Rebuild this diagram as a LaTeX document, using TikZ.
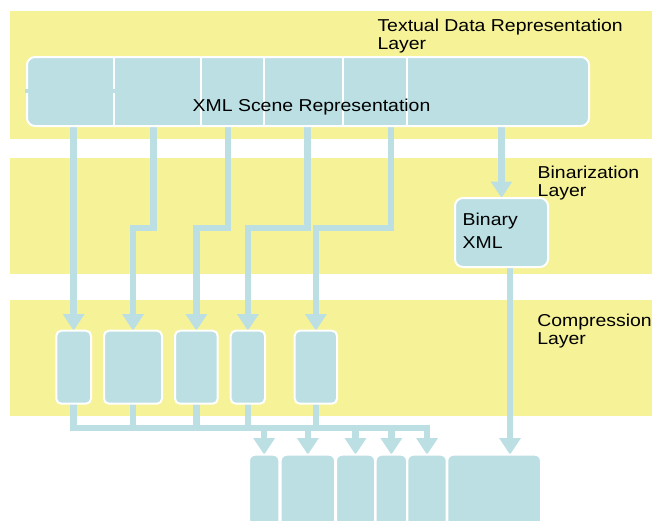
\documentclass[tikz,border=0pt]{standalone}
\usepackage{fontspec}
\setmainfont{Liberation Sans}[FakeStretch=1.13]
\usetikzlibrary{arrows.meta}
\definecolor{bandyellow}{RGB}{246,242,152}
\definecolor{boxblue}{RGB}{187,223,227}
\pgfdeclarelayer{bands}
\pgfdeclarelayer{wires}
\pgfsetlayers{bands,wires,main}
\begin{document}
\begin{tikzpicture}[x=1pt,y=-1pt,
  box/.style={draw=white, line width=2pt, fill=boxblue, inner sep=0pt, outer sep=0pt, anchor=north west},
  cbox/.style={box, rounded corners=5pt, minimum height=73pt},
  obox/.style={box, rounded corners=6pt, minimum height=80pt},
  conn/.style={draw=boxblue, line width=6.5pt},
  arr/.style={conn, -{Triangle[width=20.5pt,length=16.5pt]}},
  lbl/.style={font=\fontsize{17.2}{18}\selectfont, inner sep=0pt, outer sep=0pt, align=left, anchor=base west},
  yband/.style={fill=bandyellow}]
\useasboundingbox (0,0) rectangle (652,520);
% layer bands
\begin{pgfonlayer}{bands}
  \fill[yband] (10,11) rectangle (652,139);
  \fill[yband] (10,158) rectangle (652,274);
  \fill[yband] (10,300) rectangle (652,416);
\end{pgfonlayer}
% top box
\node[box, rounded corners=8pt, minimum width=562pt, minimum height=69pt] (xml) at (27,57) {};
\foreach \x in {113.7,201,264,343,407} \draw[white, line width=2pt] (\x,57) -- (\x,126);
\draw[boxblue, line width=4pt] (25,91) -- (114.5,91);
\node[lbl] (xmltext) at (192.7,111) {XML Scene Representation};
% base anchor of a two-line label = baseline of its last line
\node[lbl] (tlayer) at (377.5,49.5) {Textual Data Representation\\Layer};
% binarization
\node[box, rounded corners=8pt, minimum width=93pt, minimum height=69pt] (bin) at (455,198) {};
\node[lbl, font=\fontsize{17.2}{22.6}\selectfont] (bintext) at (462.7,248.3) {Binary\\XML};
\node[lbl] (blayer) at (537.7,196.5) {Binarization\\Layer};
% compression boxes
\node[cbox, minimum width=34.7pt] (c1) at (56.3,330.7) {};
\node[cbox, minimum width=58pt]   (c2) at (104,330.7) {};
\node[cbox, minimum width=42.7pt] (c3) at (175,330.7) {};
\node[cbox, minimum width=34.3pt] (c4) at (230.7,330.7) {};
\node[cbox, minimum width=42.3pt] (c5) at (294.7,330.7) {};
\node[lbl] (clayer) at (537.3,344) {Compression\\Layer};
% output boxes
\node[obox, minimum width=30.3pt] (o1) at (249,454.7) {};
\node[obox, minimum width=54.3pt] (o2) at (280.7,454.7) {};
\node[obox, minimum width=39pt]   (o3) at (336,454.7) {};
\node[obox, minimum width=31.3pt] (o4) at (375.7,454.7) {};
\node[obox, minimum width=39.4pt] (o5) at (407.3,454.7) {};
\node[obox, minimum width=93.7pt] (o6) at (447.3,454.7) {};
% helper coordinates
\coordinate (jog) at (0,228);
\coordinate (bus) at (0,428);
\coordinate (s2) at (153.4,120);
\coordinate (s3) at (228,120);
\coordinate (s4) at (307.7,120);
\coordinate (s5) at (390.8,120);
\coordinate (bx) at (510,0);
% connectors
\begin{pgfonlayer}{wires}
  \draw[arr] (c1.north |- xml.south) -- (c1.north);
  \draw[arr] (s2) -- (s2 |- jog) -| (c2.north);
  \draw[arr] (s3) -- (s3 |- jog) -| (c3.north);
  \draw[arr] (s4) -- (s4 |- jog) -| (c4.north);
  \draw[arr] (s5) -- (s5 |- jog) -| (c5.north);
  \draw[arr] (bin.north |- xml.south) -- (bin.north);
  \draw[arr] (c1.south) |- (o5.north |- bus) -- (o5.north);
  \foreach \c in {c2,c3,c4,c5} \draw[conn] (\c.south) -- (\c.south |- bus);
  \foreach \o in {o1,o2,o3,o4} \draw[arr] (\o.north |- bus) -- (\o.north);
  \draw[arr] (bin.south -| bx) -- (o6.north -| bx);
\end{pgfonlayer}
\end{tikzpicture}
\end{document}
